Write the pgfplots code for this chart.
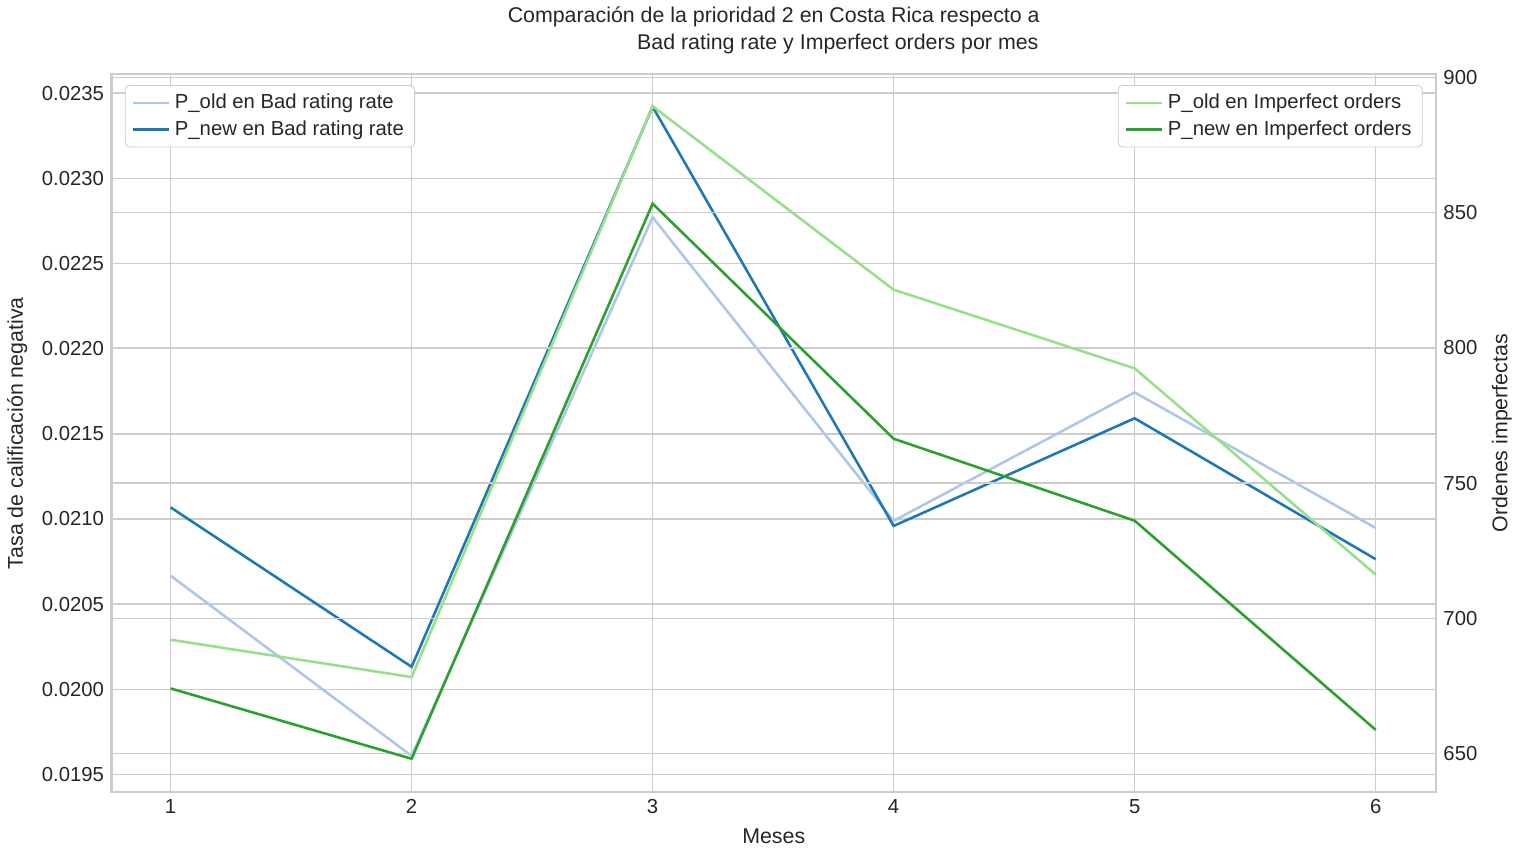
\documentclass[border=0pt]{standalone}
\usepackage{pgfplots}
\pgfplotsset{compat=1.18}
\usepackage{fontspec}
\setmainfont{Liberation Sans}
\definecolor{lb}{HTML}{AEC7E8}
\definecolor{db}{HTML}{1F77B4}
\definecolor{lg}{HTML}{98DF8A}
\definecolor{dg}{HTML}{2CA02C}
\definecolor{gc}{HTML}{CCCCCC}
\definecolor{tc}{HTML}{262626}
\begin{document}
\begin{tikzpicture}
\pgfplotsset{every axis/.append style={
  width=620pt, height=336pt, scale only axis,
  xmin=0.755, xmax=6.25,
  axis line style={gc, line width=1pt},
  grid=major, grid style={gc, line width=0.7pt},
  major tick length=0pt,
  tick label style={font=\fontsize{9.5}{11}\selectfont, text=tc},
  label style={font=\fontsize{10}{12}\selectfont, text=tc},
  /pgf/number format/assume math mode=true,
  legend style={font=\fontsize{9.5}{11}\selectfont, draw=gc, rounded corners=2pt, text=tc},
  legend cell align=left,
}}
\begin{axis}[
  ymin=0.019397, ymax=0.02361,
  ytick={0.0195,0.0200,0.0205,0.0210,0.0215,0.0220,0.0225,0.0230,0.0235},
  yticklabel style={/pgf/number format/.cd, fixed, fixed zerofill, precision=4},
  scaled y ticks=false,
  xtick={1,2,3,4,5,6},
  xlabel={Meses}, ylabel={Tasa de calificación negativa},
  legend style={at={(0.01,0.985)}, anchor=north west},
  title={Comparación de la prioridad 2 en Costa Rica respecto a\\\hspace*{6em}Bad rating rate y Imperfect orders por mes},
  title style={align=center, font=\fontsize{10}{12.5}\selectfont, text=tc},
]
\addplot[lb, line width=1.2pt] coordinates {(1,0.020667)(2,0.019609)(3,0.022771)(4,0.020989)(5,0.021743)(6,0.020947)};
\addlegendentry{P\_old en Bad rating rate}
\addplot[db, line width=1.2pt] coordinates {(1,0.021068)(2,0.020132)(3,0.023420)(4,0.020959)(5,0.021591)(6,0.020764)};
\addlegendentry{P\_new en Bad rating rate}
\end{axis}
\begin{axis}[
  ymin=635.8, ymax=901.1,
  ytick={650,700,750,800,850,900},
  axis y line*=right, axis x line=none,
  xtick=\empty,
  ylabel={Ordenes imperfectas},
  legend style={at={(0.99,0.985)}, anchor=north east},
]
\addplot[lg, line width=1.2pt] coordinates {(1,692.1)(2,678.3)(3,889.3)(4,821.5)(5,792.4)(6,716.2)};
\addlegendentry{P\_old en Imperfect orders}
\addplot[dg, line width=1.2pt] coordinates {(1,674.1)(2,648.1)(3,853.3)(4,766.4)(5,736.1)(6,658.8)};
\addlegendentry{P\_new en Imperfect orders}
\end{axis}
\end{tikzpicture}
\end{document}
